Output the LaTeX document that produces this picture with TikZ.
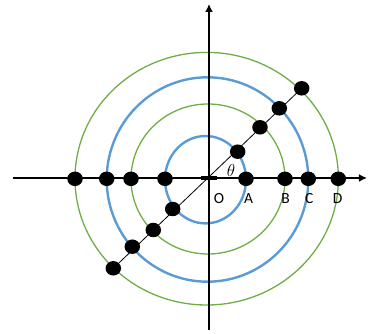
\documentclass[tikz,border=0pt]{standalone}
\usepackage{fontspec}
\setsansfont{Carlito}
\usepackage{xcolor}
\definecolor{ringblue}{HTML}{5B9BD5}
\definecolor{ringgreen}{HTML}{70AD47}
\usepackage{tikz}
\usetikzlibrary{arrows.meta,shapes.geometric,backgrounds}
\tikzset{
  >={Latex[length=8pt,width=8pt]},
  every picture/.style={line cap=round, line join=round},
  axisline/.style={black, line width=2.6pt, line cap=butt, -{Latex[length=8pt,width=8pt]}},
  ringb/.style={ringblue, line width=2.4pt},
  ringg/.style={ringgreen, line width=1.3pt},
  ray/.style={black, line width=0.8pt},
  dot/.style={ellipse, fill=black, minimum width=15.5pt, minimum height=14.5pt, inner sep=0pt},
  lbl/.style={font=\sffamily\fontsize{15.5}{15.5}\selectfont, text=black, inner sep=0pt},
}

\begin{document}
\begin{tikzpicture}[x=1pt, y=-1pt]
\useasboundingbox (0,0) rectangle (368,334);
% rings
\draw[ringg] (206.7,178.7) ellipse[x radius=131.7, y radius=126.3];
\draw[ringb] (207.5,179.5) ellipse[x radius=100.8, y radius=102.2];
\draw[ringg] (208,179) ellipse[x radius=77, y radius=75];
\draw[ringb] (205.5,179.7) ellipse[x radius=40.5, y radius=43.7];
% axes
\coordinate (xl) at (13,178);
\coordinate (xr) at (367,178);
\coordinate (yb) at (209,330);
\coordinate (yt) at (209,4);
\draw[axisline] (xl) -- (xr);
\draw[axisline] (yb) -- (yt);
\fill (201,176) rectangle (217,180.5);
% dots on the axis
\foreach \n/\x in {l4/75, l3/106.7, l2/131, l1/165, r1/246, r2/285, r3/308.3, r4/338.3}
  \node[dot] (\n) at (\x,178.8) {};
% dots on the ray
\node[dot] (p1) at (237.7,151.7) {};
\node[dot] (p2) at (260,127.3) {};
\node[dot] (p3) at (279.3,108.3) {};
\node[dot] (p4) at (301.7,88.3) {};
\node[dot] (q1) at (172.7,209) {};
\node[dot] (q2) at (153.3,230) {};
\node[dot] (q3) at (132.3,246.7) {};
\node[dot] (q4) at (113.3,268.3) {};
\begin{scope}[on background layer]
\draw[ray] (q4.center) -- (p4.center);
\end{scope}
% labels
\node[lbl] (labO) at (219,199) {O};
\node[lbl] (labA) at (248.5,199) {A};
\node[lbl] (labB) at (285.7,199) {B};
\node[lbl] (labC) at (309.3,199) {C};
\node[lbl] (labD) at (337.7,199) {D};
\node[font=\fontsize{18}{18}\selectfont, inner sep=0pt] (theta) at (231,170.5) {$\theta$};
\end{tikzpicture}
\end{document}
